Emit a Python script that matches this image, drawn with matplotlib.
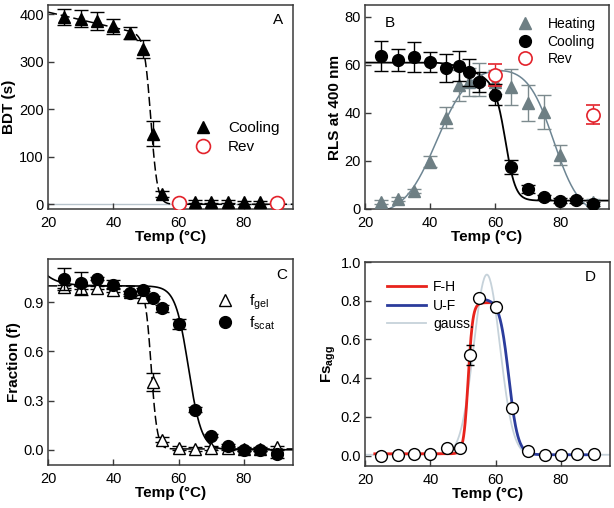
import numpy as np
import matplotlib
matplotlib.use("Agg")
import matplotlib.pyplot as plt
from matplotlib.lines import Line2D

plt.rcParams['font.family'] = ['Liberation Sans', 'DejaVu Sans']
plt.rcParams['mathtext.fontset'] = 'custom'
plt.rcParams['mathtext.rm'] = 'Liberation Sans'
plt.rcParams['mathtext.bf'] = 'Liberation Sans:bold'

# ---------------- data ----------------
# panel A: break-down time
temp_a = [25, 30, 35, 40, 45, 49, 52, 55, 65, 70, 75, 80, 85]
bdt_cool = [395, 391, 387, 375, 361, 328, 149, 22, 5, 5, 5, 4, 4]
bdt_cool_err = [17.5, 18, 19, 16, 12.5, 19, 27, 6, 3, 3, 3, 3, 3]
temp_rev_a = [60, 90]
bdt_rev = [3, 3]

# panel B: RLS at 400 nm
temp_b = [25, 30, 35, 40, 45, 49, 52, 55, 60, 65, 70, 75, 80, 85, 90]
rls_cool = [63.8, 62, 63.4, 61.2, 58.7, 59.5, 57, 53, 47.7, 17.5, 8.2, 5, 3.5, 3.6, 2.1]
rls_cool_err = [6.4, 4.7, 6.2, 4.2, 5.8, 6.3, 5.7, 4.2, 4.2, 3, 1.6, 1, 1, 1, 1]
temp_heat = [25, 30, 35, 40, 45, 49, 52, 55, 60, 65, 70, 75, 80, 90]
rls_heat = [2.8, 4.2, 7.5, 19.7, 38, 51.6, 53, 54, 53, 50.8, 44.2, 40.3, 22.5, 3]
rls_heat_err = [0.8, 1, 1, 2.2, 4.4, 6.4, 5.9, 7, 5, 7.5, 7.5, 7.1, 4.2, 1]
temp_rev_b = [60, 90]
rls_rev = [55.8, 39.3]
rls_rev_err = [4.5, 4]

# panel C: fractions
temp_c = temp_b
f_gel = [0.995, 0.99, 0.99, 0.975, 0.96, 0.935, 0.415, 0.06, 0.01, 0.005, 0.01, 0.01, 0.005, 0.005, 0.015]
f_gel_err = [0.01, 0.01, 0.01, 0.01, 0.01, 0.01, 0.056, 0.015, 0.01, 0.01, 0.01, 0.01, 0.01, 0.01, 0.01]
f_scat = [1.043, 1.016, 1.043, 1.008, 0.955, 0.976, 0.929, 0.862, 0.768, 0.244, 0.086, 0.024, 0.0, 0.0, -0.026]
f_scat_err = [0.068, 0.07, 0.01, 0.028, 0.015, 0.01, 0.01, 0.02, 0.03, 0.015, 0.01, 0.01, 0.01, 0.01, 0.025]

# panel D: Fs_agg
temp_d = temp_b
fs_agg = [0.0, 0.003, 0.009, 0.01, 0.038, 0.038, 0.52, 0.814, 0.769, 0.247, 0.026, 0.003, 0.002, 0.009, 0.009]
fs_agg_err = [0, 0, 0, 0, 0, 0, 0.054, 0.01, 0.025, 0.01, 0, 0, 0, 0, 0]

# fitted curve parameters (as drawn in the figure)
fit_a = dict(a=437, b=-1.6, tm=51.5, w=1.0)
fit_b_cool = dict(top=57.5, base=3.5, k=0.0208, t0=40, tm=63.4, w=1.55)
fit_b_heat = dict(amp=63, t1=42, w1=5, t2=78, w2=4, off=0.05)
fit_c_gel = dict(top=1.0, base=0.005, tm=51.6, w=0.9)
fit_c_scat = dict(extra=0.06, tau=4.0, tm=63, w=2.0)
fit_d_fh = dict(base=0.01, amp=0.78, tm=51.6, w=0.7)
fit_d_uf = dict(base=0.005, amp=0.805, tm=64, w=1.4)
fit_d_gauss = dict(base=0.005, amp=0.93, mu=57.3, sig=4.0)


def sig_down(t, tm, w):
    return 1.0 / (1.0 + np.exp((t - tm) / w))


gray = '#6e7f84'
red = '#e3222b'
spine_col = '#3a3a3a'

fig = plt.figure(figsize=(6.14, 5.08), dpi=100)
W, H = 614, 508


def make_ax(l, r, t, b):
    ax = fig.add_axes([l / W, (H - b) / H, (r - l) / W, (b - t) / H])
    for s in ax.spines.values():
        s.set_color(spine_col)
        s.set_linewidth(1.1)
    ax.tick_params(direction='in', length=4, width=1, color=spine_col,
                   labelsize=10.5, pad=3)
    ax.tick_params(axis='x', pad=5)
    ax.set_xlim(20, 95)
    ax.set_xticks([20, 40, 60, 80])
    ax.set_xlabel('Temp (\u00b0C)', fontsize=11, fontweight='bold', labelpad=0)
    return ax


eb = dict(capsize=5, elinewidth=1, capthick=1, linestyle='none')

# ---------------- A ----------------
ax = make_ax(48, 293, 5, 209)
tt = np.linspace(20, 95, 400)
ax.axhline(0, color='#b8c4cc', lw=1, zorder=1)
ax.plot(tt, (fit_a['a'] + fit_a['b'] * tt) * sig_down(tt, fit_a['tm'], fit_a['w']),
        color='black', lw=1.1, dashes=(6, 2.5), zorder=2)
ax.errorbar(temp_a, bdt_cool, yerr=bdt_cool_err, marker='^', ms=8, color='black',
            ecolor='black', zorder=3, **eb)
ax.plot(temp_rev_a, bdt_rev, 'o', ms=10, mfc='white', mec=red, mew=1.2, zorder=4)
ax.set_ylim(-10, 420)
ax.set_yticks([0, 100, 200, 300, 400])
ax.set_ylabel('BDT (s)', fontsize=11, fontweight='bold', labelpad=2)
ax.text(0.94, 0.925, 'A', transform=ax.transAxes, fontsize=11, ha='center', va='center')
hA = [Line2D([], [], marker='^', ms=8, color='black', ls='none'),
      Line2D([], [], marker='o', ms=10, mfc='white', mec=red, mew=1.2, ls='none')]
ax.legend(hA, ['Cooling', 'Rev'], loc='upper left', bbox_to_anchor=(0.572, 0.43),
          frameon=False, fontsize=11, handletextpad=0.6, labelspacing=0.3,
          borderpad=0, borderaxespad=0)

# ---------------- B ----------------
ax = make_ax(365, 609, 5, 209)
c = fit_b_cool
base_line = c['top'] - c['k'] * np.clip(tt - c['t0'], 0, None) ** 2
ax.plot(tt, c['base'] + base_line * sig_down(tt, c['tm'], c['w']), color='black', lw=1.3, zorder=2)
h = fit_b_heat
s1 = 1.0 / (1.0 + np.exp(-(tt - h['t1']) / h['w1']))
s2 = sig_down(tt, h['t2'], h['w2'])
ax.plot(tt, h['amp'] * (s1 * s2 - h['off']), color='#6d8593', lw=1.1, zorder=2)
ax.errorbar(temp_heat, rls_heat, yerr=rls_heat_err, marker='^', ms=8, color=gray,
            ecolor='#7c8a8e', zorder=3, **eb)
ax.errorbar(temp_b, rls_cool, yerr=rls_cool_err, marker='o', ms=8.5, color='black',
            ecolor='black', zorder=4, **eb)
ax.errorbar(temp_rev_b, rls_rev, yerr=rls_rev_err, marker='o', ms=9.5, mfc='white',
            mec=red, mew=1.2, ecolor=red, zorder=5, **eb)
ax.set_ylim(0, 85)
ax.set_yticks([0, 20, 40, 60, 80])
ax.set_ylabel('RLS at 400 nm', fontsize=11, fontweight='bold', labelpad=2)
ax.text(0.1, 0.91, 'B', transform=ax.transAxes, fontsize=11, ha='center', va='center')
hB = [Line2D([], [], marker='^', ms=8, color=gray, ls='none'),
      Line2D([], [], marker='o', ms=8.5, color='black', ls='none'),
      Line2D([], [], marker='o', ms=9.5, mfc='white', mec=red, mew=1.2, ls='none')]
ax.legend(hB, ['Heating', 'Cooling', 'Rev'], loc='upper left', bbox_to_anchor=(0.6, 0.94),
          frameon=False, fontsize=10, handletextpad=0.6, labelspacing=0.25,
          borderpad=0, borderaxespad=0)

# ---------------- C ----------------
ax = make_ax(48, 293, 259, 465)
g = fit_c_gel
ax.plot(tt, g['base'] + (g['top'] - g['base']) * sig_down(tt, g['tm'], g['w']),
        color='black', lw=1.1, dashes=(6, 2.5), zorder=2)
sc = fit_c_scat
ax.plot(tt, (1 + sc['extra'] * np.exp(-(tt - 20) / sc['tau'])) * sig_down(tt, sc['tm'], sc['w']),
        color='black', lw=1.2, zorder=2)
ax.errorbar(temp_c, f_gel, yerr=f_gel_err, marker='^', ms=8, mfc='white', mec='black',
            mew=1, color='black', ecolor='black', zorder=3, **eb)
ax.errorbar(temp_c, f_scat, yerr=f_scat_err, marker='o', ms=8.5, color='black',
            ecolor='black', zorder=4, **eb)
ax.set_ylim(-0.093, 1.164)
ax.set_yticks([0.0, 0.3, 0.6, 0.9])
ax.set_yticklabels(['0.0', '0.3', '0.6', '0.9'])
ax.set_ylabel('Fraction (f)', fontsize=11, fontweight='bold', labelpad=2)
ax.text(0.954, 0.92, 'C', transform=ax.transAxes, fontsize=11, ha='center', va='center')
hC = [Line2D([], [], marker='^', ms=8, mfc='white', mec='black', mew=1, ls='none'),
      Line2D([], [], marker='o', ms=8.5, color='black', ls='none')]
ax.legend(hC, [r'f$_{\mathrm{gel}}$', r'f$_{\mathrm{scat}}$'], loc='upper left',
          bbox_to_anchor=(0.66, 0.84), frameon=False, fontsize=11, handletextpad=0.6,
          labelspacing=0.15, borderpad=0, borderaxespad=0)

# ---------------- D ----------------
ax = make_ax(365, 610, 262, 466)
gs = fit_d_gauss
ax.plot(tt, gs['base'] + gs['amp'] * np.exp(-(tt - gs['mu']) ** 2 / (2 * gs['sig'] ** 2)),
        color='#c6d2da', lw=1.3, zorder=2)
t_fh = np.linspace(23, 58.5, 300)
fh = fit_d_fh
ax.plot(t_fh, fh['base'] + fh['amp'] / (1 + np.exp(-(t_fh - fh['tm']) / fh['w'])),
        color='#e8231c', lw=2, zorder=3)
t_uf = np.linspace(55, 91, 300)
uf = fit_d_uf
ax.plot(t_uf, uf['base'] + uf['amp'] * sig_down(t_uf, uf['tm'], uf['w']),
        color='#2b3c9c', lw=2, zorder=3)
ax.errorbar(temp_d, fs_agg, yerr=fs_agg_err, marker='o', ms=8.5, mfc='white', mec='black',
            mew=1, color='black', ecolor='black', zorder=4, capsize=3, elinewidth=1,
            capthick=1, linestyle='none')
ax.set_ylim(-0.053, 1.0)
ax.set_yticks([0.0, 0.2, 0.4, 0.6, 0.8, 1.0])
ax.set_yticklabels(['0.0', '0.2', '0.4', '0.6', '0.8', '1.0'])
ax.set_ylabel(r'$\mathbf{Fs_{agg}}$', fontsize=11, labelpad=2)
ax.text(0.92, 0.925, 'D', transform=ax.transAxes, fontsize=11, ha='center', va='center')
hD = [Line2D([], [], color='#e8231c', lw=2),
      Line2D([], [], color='#2b3c9c', lw=2),
      Line2D([], [], color='#c6d2da', lw=1.3)]
ax.legend(hD, ['F-H', 'U-F', 'gauss.'], loc='upper left', bbox_to_anchor=(0.09, 0.91),
          frameon=False, fontsize=10, handlelength=2.8, handletextpad=0.5,
          labelspacing=0.3, borderpad=0, borderaxespad=0)

fig.savefig('out.png', dpi=100)
